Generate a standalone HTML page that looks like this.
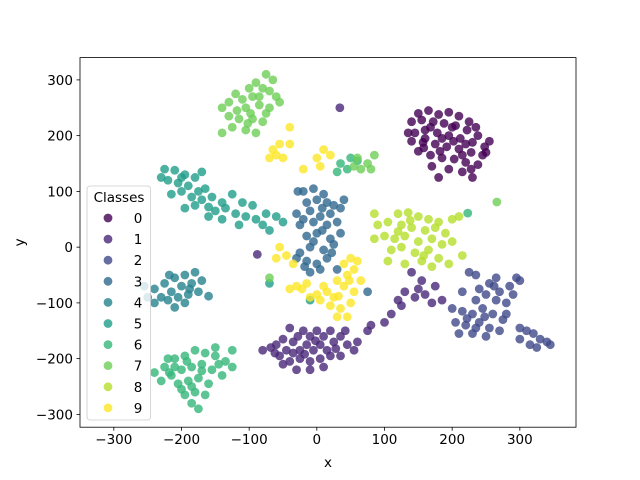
<!DOCTYPE html>
<html><head><meta charset="utf-8"><style>
body{margin:0;background:#fff}
svg{display:block;font-family:"DejaVu Sans","Liberation Sans",sans-serif}
</style></head><body>
<svg id="chart" width="640" height="480"></svg>
<script>
const classLabels=["0","1","2","3","4","5","6","7","8","9"];
const classColors=["#440154","#482878","#3e4989","#31688e","#26828e","#1f9e89","#35b779","#6ece58","#b5de2b","#fde725"];
const xTicks=[-300,-200,-100,0,100,200,300];
const yTicks=[-300,-200,-100,0,100,200,300];
const class0=[[150,240],[165,245],[180,238],[195,242],[210,235],[225,225],[140,225],[155,228],[172,225],[188,222],[205,218],[222,210],[238,200],[145,205],[160,210],[178,205],[195,200],[212,195],[230,188],[248,180],[140,190],[157,188],[175,185],[192,180],[210,176],[228,170],[245,165],[150,172],[168,165],[185,160],[203,158],[220,152],[238,148],[170,145],[195,140],[215,135],[230,125],[180,125],[135,205],[160,195],[200,215],[185,195],[255,190],[220,185],[168,215],[202,190],[235,215],[158,178],[215,165],[182,172],[228,140],[250,170]];
const class1=[[-80,-185],[-68,-180],[-60,-175],[-50,-165],[-40,-145],[-45,-185],[-35,-170],[-28,-160],[-20,-150],[-10,-160],[0,-150],[10,-160],[20,-150],[-25,-185],[-15,-175],[-5,-185],[5,-175],[15,-185],[25,-170],[35,-160],[45,-175],[55,-185],[-55,-195],[-40,-205],[-25,-200],[-10,-205],[5,-200],[20,-195],[35,-195],[-30,-220],[-10,-220],[10,-215],[-50,-210],[60,-170],[34,250],[-88,-13],[130,-80],[145,-90],[160,-85],[175,-70],[185,-95],[170,-100],[150,-75],[120,-95],[125,-105],[110,-120],[100,-135],[80,-140],[75,-150],[140,-45],[155,-60],[-35,-190],[-2,-168],[28,-182],[-18,-192],[42,-150],[-62,-190]];
const class2=[[225,-45],[235,-50],[215,-80],[240,-75],[255,-65],[265,-55],[270,-80],[285,-70],[295,-55],[300,-60],[250,-85],[265,-95],[280,-100],[200,-110],[215,-115],[230,-120],[245,-110],[260,-120],[205,-135],[220,-140],[240,-135],[255,-145],[275,-130],[210,-155],[230,-155],[250,-160],[270,-150],[300,-145],[310,-150],[320,-155],[330,-165],[340,-170],[345,-175],[300,-165],[315,-175],[325,-180],[280,-120],[235,-95],[262,-70],[290,-85],[222,-128],[248,-125],[235,-145]];
const class3=[[-20,100],[-5,105],[10,95],[0,85],[-15,80],[15,80],[-30,60],[-10,65],[5,55],[20,60],[35,70],[-25,40],[-5,45],[15,40],[30,45],[-15,20],[0,25],[20,15],[35,25],[-10,0],[10,-5],[25,5],[-30,-20],[-15,-25],[0,-30],[15,-20],[30,-40],[-10,-45],[5,-40],[-25,-10],[75,-80],[40,85],[-28,100],[-20,50],[25,75],[8,30],[-5,10],[22,-10],[-18,-35],[8,70]];
const class4=[[-240,-75],[-225,-65],[-210,-55],[-195,-50],[-180,-45],[-230,-90],[-215,-80],[-200,-70],[-185,-65],[-170,-60],[-240,-100],[-220,-95],[-205,-90],[-190,-85],[-175,-80],[-160,-88],[-210,-108],[-255,-70],[-250,-90],[-195,-100],[-218,-50],[-188,-75]];
const class5=[[-225,140],[-210,138],[-195,130],[-180,125],[-170,135],[-220,120],[-205,115],[-190,110],[-175,100],[-165,105],[-215,95],[-200,100],[-185,90],[-170,85],[-155,90],[-140,80],[-150,65],[-135,70],[-120,60],[-105,55],[-90,50],[-80,40],[-70,30],[-60,55],[-50,45],[-95,75],[-110,80],[-125,95],[-180,75],[-160,55],[-140,50],[-115,40],[-195,70],[-230,125],[-75,60],[-70,-65],[-10,-95],[-200,125],[-160,72]];
const class6=[[-240,-225],[-225,-215],[-210,-200],[-195,-195],[-180,-185],[-165,-190],[-150,-195],[-135,-205],[-125,-215],[-230,-240],[-215,-230],[-200,-220],[-185,-215],[-170,-210],[-155,-220],[-140,-230],[-205,-245],[-190,-240],[-175,-235],[-160,-245],[-195,-265],[-180,-260],[-165,-265],[-185,-280],[-175,-290],[-200,-255],[-210,-215],[-150,-180],[-220,-200],[-125,-185],[223,61],[50,160],[60,155],[45,140],[35,150],[30,135],[-185,-250],[-170,-222],[-218,-225],[-145,-210],[-192,-205]];
const class7=[[-75,310],[-65,300],[-90,295],[-80,285],[-100,285],[-120,275],[-130,260],[-140,250],[-110,265],[-95,270],[-70,280],[-60,270],[-105,250],[-85,255],[-70,250],[-130,235],[-115,230],[-95,230],[-80,225],[-125,215],[-105,210],[-90,205],[-140,205],[-75,240],[-55,260],[60,160],[75,150],[65,140],[80,140],[85,165],[55,145],[266,81],[-70,-55],[-98,240],[-85,270],[-118,245],[-102,222]];
const class8=[[120,60],[135,62],[150,55],[165,50],[180,45],[200,50],[210,55],[90,40],[105,45],[125,40],[140,35],[160,30],[175,35],[190,25],[85,15],[100,20],[115,15],[130,20],[150,10],[170,15],[185,5],[200,10],[110,-5],[125,0],[145,-10],[165,-5],[180,-20],[195,-30],[105,-25],[130,-30],[155,-25],[170,-35],[215,-15],[85,60],[138,48],[158,-15],[120,28]];
const class9=[[-65,175],[-55,185],[-60,165],[-70,160],[-50,160],[-40,215],[-40,185],[-20,140],[0,160],[10,175],[20,165],[5,145],[-55,0],[-45,-15],[-60,-20],[-35,-30],[-30,-70],[-15,-65],[0,-85],[15,-80],[30,-60],[45,-50],[55,-40],[60,-25],[40,-70],[55,-80],[50,-100],[35,-110],[20,-105],[5,-95],[-10,-90],[45,-125],[30,-125],[-40,-75],[65,-60],[40,-30],[50,-20],[25,-90],[10,-70],[32,-88],[-22,-75],[48,-60]];
const allClasses=[class0,class1,class2,class3,class4,class5,class6,class7,class8,class9];

const L=80,R=576,T=57.6,B=427.2;
const xMin=-350,xMax=383,yMin=-323,yMax=340;
function sx(v){return L+(v-xMin)/(xMax-xMin)*(R-L);}
function sy(v){return B-(v-yMin)/(yMax-yMin)*(B-T);}
const NS="http://www.w3.org/2000/svg";
const svg=document.getElementById('chart');
function mk(tag,attrs,parent){const e=document.createElementNS(NS,tag);for(const k in attrs)e.setAttribute(k,attrs[k]);(parent||svg).appendChild(e);return e;}

const pts=mk('g',{});


allClasses.forEach((arr,ci)=>{
  arr.forEach(p=>{
    const c=mk('circle',{cx:sx(p[0]),cy:sy(p[1]),r:4.4,fill:classColors[ci],'fill-opacity':0.8},pts);
    
    
  });
});

const frame=mk('rect',{x:L,y:T,width:R-L,height:B-T,fill:'none',stroke:'#000','stroke-width':0.8});



xTicks.forEach(v=>{
  const x=sx(v);
  const t=mk('line',{x1:x,x2:x,y1:B,y2:B+3.5,stroke:'#000','stroke-width':0.8});
  
  
  const l=mk('text',{x:x,y:B+17,'text-anchor':'middle','font-size':'13.5px',fill:'#000'});
  l.textContent=(v<0?'\u2212'+Math.abs(v):v);
  
  
});
yTicks.forEach(v=>{
  const y=sy(v);
  const t=mk('line',{x1:L-3.5,x2:L,y1:y,y2:y,stroke:'#000','stroke-width':0.8});
  
  
  const l=mk('text',{x:L-7,y:y+5,'text-anchor':'end','font-size':'13.5px',fill:'#000'});
  l.textContent=(v<0?'\u2212'+Math.abs(v):v);
  
  
});
const xl=mk('text',{x:(L+R)/2,y:467,'text-anchor':'middle','font-size':'13.5px'});
xl.textContent='x';


const yl=mk('text',{x:24,y:(T+B)/2,'text-anchor':'middle','font-size':'13.5px',transform:'rotate(-90 24 '+((T+B)/2)+')'});
yl.textContent='y';



const lg=mk('g',{});


mk('rect',{x:87,y:186,width:63.5,height:234,rx:3,fill:'#fff','fill-opacity':0.8,stroke:'#ccc','stroke-width':0.8},lg);
const lt=mk('text',{x:119,y:202,'text-anchor':'middle','font-size':'13.5px'},lg);
lt.textContent='Classes';


classLabels.forEach((lab,i)=>{
  const y=218+i*21.1;
  const g=mk('g',{},lg);
  
  
  mk('circle',{cx:108,cy:y,r:4.4,fill:classColors[i],'fill-opacity':0.8},g);
  const t=mk('text',{x:138,y:y+5,'text-anchor':'middle','font-size':'13.5px'},g);
  t.textContent=lab;
});
</script>
</body></html>
